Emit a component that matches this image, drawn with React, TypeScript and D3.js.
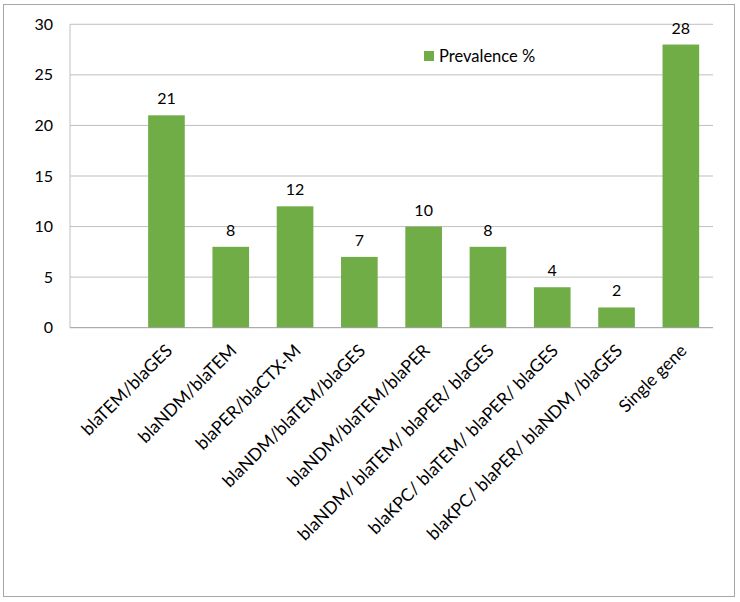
import React, { useEffect, useRef } from "react";
import * as d3 from "d3";

// categories (first slot is empty in the original chart)
const categories = [
  "",
  "blaTEM/blaGES",
  "blaNDM/blaTEM",
  "blaPER/blaCTX-M",
  "blaNDM/blaTEM/blaGES",
  "blaNDM/blaTEM/blaPER",
  "blaNDM/ blaTEM/ blaPER/ blaGES",
  "blaKPC/ blaTEM/ blaPER/ blaGES",
  "blaKPC/ blaPER/ blaNDM /blaGES",
  "Single gene",
];
const prevalence: (number | null)[] = [null, 21, 8, 12, 7, 10, 8, 4, 2, 28];
const yTicks = [0, 5, 10, 15, 20, 25, 30];
const seriesName = "Prevalence %";

export default function App() {
  const svgRef = useRef<SVGSVGElement>(null);

  useEffect(() => {
    const svg = d3.select(svgRef.current);
    svg.selectAll("*").remove();

    const width = 740;
    const height = 602;
    const margin = { top: 24.3, right: 27, bottom: 274.3, left: 70 };
    const font = "Lato, 'Open Sans', sans-serif";
    const green = "#70ad47";

    // outer border
    svg.append("rect")
      .attr("x", 3.5).attr("y", 4.5)
      .attr("width", 731).attr("height", 592)
      .attr("fill", "white")
      .attr("stroke", "#a6a6a6");

    const x = d3.scaleBand()
      .domain(categories.map((c, i) => String(i)))
      .range([margin.left, width - margin.right])
      .padding(0);

    const y = d3.scaleLinear()
      .domain([0, 30])
      .range([height - margin.bottom, margin.top]);

    // grid lines
    svg.append("g")
      .selectAll("line")
      .data(yTicks.filter((t) => t > 0))
      .join("line")
      .attr("x1", margin.left).attr("x2", width - margin.right)
      .attr("y1", (d) => y(d)).attr("y2", (d) => y(d))
      .attr("stroke", "#bfbfbf").attr("stroke-width", 1);

    // left axis line
    svg.append("line")
      .attr("x1", margin.left).attr("x2", margin.left)
      .attr("y1", y(30)).attr("y2", y(0))
      .attr("stroke", "#bfbfbf");

    // y tick labels
    svg.append("g")
      .selectAll("text")
      .data(yTicks)
      .join("text")
      .attr("x", 53)
      .attr("y", (d) => y(d))
      .attr("dy", "0.35em")
      .attr("text-anchor", "end")
      .attr("font-family", font)
      .attr("font-size", "16px")
      .attr("fill", "#000")
      .text((d) => d);

    const bw = x.bandwidth() * 0.57;
    const cx = (i: number) => (x(String(i)) as number) + x.bandwidth() / 2;

    // bars
    const bars = categories.map((c, i) => ({ i, v: prevalence[i] })).filter((d) => d.v !== null);
    svg.append("g")
      .selectAll("rect")
      .data(bars)
      .join("rect")
      .attr("x", (d) => cx(d.i) - bw / 2)
      .attr("y", (d) => y(d.v as number))
      .attr("width", bw)
      .attr("height", (d) => y(0) - y(d.v as number))
      .attr("fill", green);

    // value labels
    svg.append("g")
      .selectAll("text")
      .data(bars)
      .join("text")
      .attr("x", (d) => cx(d.i))
      .attr("y", (d) => y(d.v as number) - 11)
      .attr("text-anchor", "middle")
      .attr("font-family", font)
      .attr("font-size", "16px")
      .attr("fill", "#000")
      .text((d) => d.v as number);

    // x axis line
    svg.append("line")
      .attr("x1", margin.left).attr("x2", width - margin.right)
      .attr("y1", y(0)).attr("y2", y(0))
      .attr("stroke", "#999");

    // category labels rotated
    svg.append("g")
      .selectAll("text")
      .data(categories.map((c, i) => ({ c, i })))
      .join("text")
      .attr("transform", (d) => `translate(${cx(d.i) + 7},${y(0) + 24}) rotate(-45)`)
      .attr("text-anchor", "end")
      .attr("font-family", font)
      .attr("font-size", "17.5px")
      .attr("fill", "#000")
      .text((d) => d.c);

    // legend
    svg.append("rect")
      .attr("x", 424).attr("y", 51)
      .attr("width", 10).attr("height", 10)
      .attr("fill", green);
    svg.append("text")
      .attr("x", 439).attr("y", 56)
      .attr("dy", "0.35em")
      .attr("font-family", font)
      .attr("font-size", "16.5px")
      .attr("fill", "#000")
      .text(seriesName);
  }, []);

  return (
    <svg ref={svgRef} width={740} height={602} style={{ position: "absolute", left: 0, top: 0 }} />
  );
}
